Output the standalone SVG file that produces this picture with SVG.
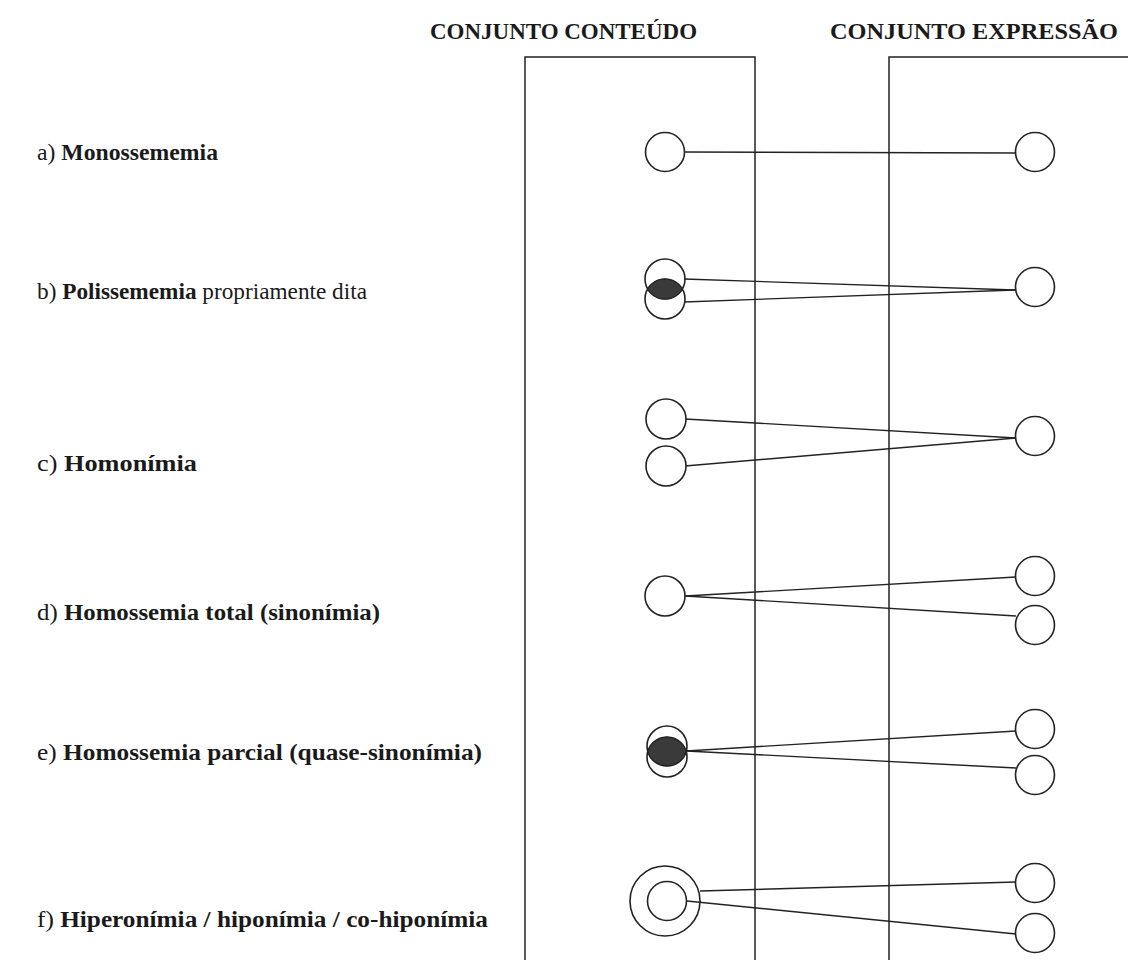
<svg xmlns="http://www.w3.org/2000/svg" width="1128" height="960" viewBox="0 0 1128 960">
<style>
.hdr{font-family:"Liberation Serif","Times New Roman",serif;font-size:24px;font-weight:bold;fill:#1a1a1a}
.lbl{font-family:"Liberation Serif","Times New Roman",serif;font-size:24px;fill:#1a1a1a}
.b{font-weight:bold}
.c{fill:#fff;stroke:#222;stroke-width:1.6}
.o{fill:none;stroke:#222;stroke-width:1.6}
.lens{fill:#3a3a3a;stroke:#222;stroke-width:1}
.ln{stroke:#222;stroke-width:1.4;fill:none}
.set{fill:none;stroke:#222;stroke-width:1.5}
</style>
<rect width="1128" height="960" fill="#fff"/>
<g id="headers">
<text class="hdr" x="430" y="39" textLength="267" lengthAdjust="spacingAndGlyphs">CONJUNTO CONTEÚDO</text>
<text class="hdr" x="830" y="39" textLength="288" lengthAdjust="spacingAndGlyphs">CONJUNTO EXPRESSÃO</text>
</g>
<g id="sets">
<path class="set" d="M525 965 V57 H755 V965"/>
<path class="set" d="M889 965 V57 H1132"/>
</g>
<g id="labels">
<text class="lbl" x="37" y="160" textLength="181" lengthAdjust="spacingAndGlyphs">a) <tspan class="b">Monossememia</tspan></text>
<text class="lbl" x="37" y="299" textLength="330" lengthAdjust="spacingAndGlyphs">b) <tspan class="b">Polissememia</tspan> propriamente dita</text>
<text class="lbl" x="37" y="471" textLength="160" lengthAdjust="spacingAndGlyphs">c) <tspan class="b">Homonímia</tspan></text>
<text class="lbl" x="37" y="620" textLength="343" lengthAdjust="spacingAndGlyphs">d) <tspan class="b">Homossemia total (sinonímia)</tspan></text>
<text class="lbl" x="37" y="760" textLength="445" lengthAdjust="spacingAndGlyphs">e) <tspan class="b">Homossemia parcial (quase-sinonímia)</tspan></text>
<text class="lbl" x="37" y="927" textLength="451" lengthAdjust="spacingAndGlyphs">f) <tspan class="b">Hiperonímia / hiponímia / co-hiponímia</tspan></text>
</g>
<g id="connectors">
<line class="ln" x1="684" y1="152" x2="1016" y2="153"/>
<line class="ln" x1="684" y1="279" x2="1015" y2="290"/>
<line class="ln" x1="684" y1="302" x2="1015" y2="290"/>
<line class="ln" x1="685" y1="419" x2="1016" y2="438"/>
<line class="ln" x1="685" y1="466" x2="1016" y2="438"/>
<line class="ln" x1="685" y1="596" x2="1016" y2="577"/>
<line class="ln" x1="685" y1="596" x2="1016" y2="616"/>
<line class="ln" x1="686" y1="751" x2="1016" y2="731"/>
<line class="ln" x1="686" y1="751" x2="1016" y2="768"/>
<line class="ln" x1="700" y1="891" x2="1016" y2="882"/>
<line class="ln" x1="687" y1="901" x2="1016" y2="934"/>
</g>
<g id="node-a">
<circle class="c" cx="665" cy="152" r="19.5"/>
<circle class="c" cx="1035" cy="152" r="19.5"/>
</g>
<g id="node-b">
<circle class="o" cx="665" cy="279" r="20"/>
<circle class="o" cx="665" cy="299" r="20"/>
<path class="lens" d="M647.7 289 A20 20 0 0 1 682.3 289 A20 20 0 0 1 647.7 289 Z"/>
<circle class="c" cx="1035" cy="287" r="19.5"/>
</g>
<g id="node-c">
<circle class="c" cx="666" cy="419" r="20"/>
<circle class="c" cx="666" cy="466" r="20"/>
<circle class="c" cx="1035" cy="436" r="19.5"/>
</g>
<g id="node-d">
<circle class="c" cx="665" cy="596" r="20"/>
<circle class="c" cx="1035" cy="576" r="19.5"/>
<circle class="c" cx="1035" cy="625" r="19.5"/>
</g>
<g id="node-e">
<circle class="o" cx="667" cy="746" r="20"/>
<circle class="o" cx="667" cy="757" r="20"/>
<path class="lens" d="M647.8 751.5 A20 20 0 0 1 686.2 751.5 A20 20 0 0 1 647.8 751.5 Z"/>
<circle class="c" cx="1035" cy="729" r="19.5"/>
<circle class="c" cx="1035" cy="775" r="19.5"/>
</g>
<g id="node-f">
<circle class="o" cx="665" cy="901" r="35"/>
<circle class="o" cx="667" cy="901" r="19.5"/>
<circle class="c" cx="1035" cy="883" r="19.5"/>
<circle class="c" cx="1035" cy="933" r="19.5"/>
</g>
</svg>
